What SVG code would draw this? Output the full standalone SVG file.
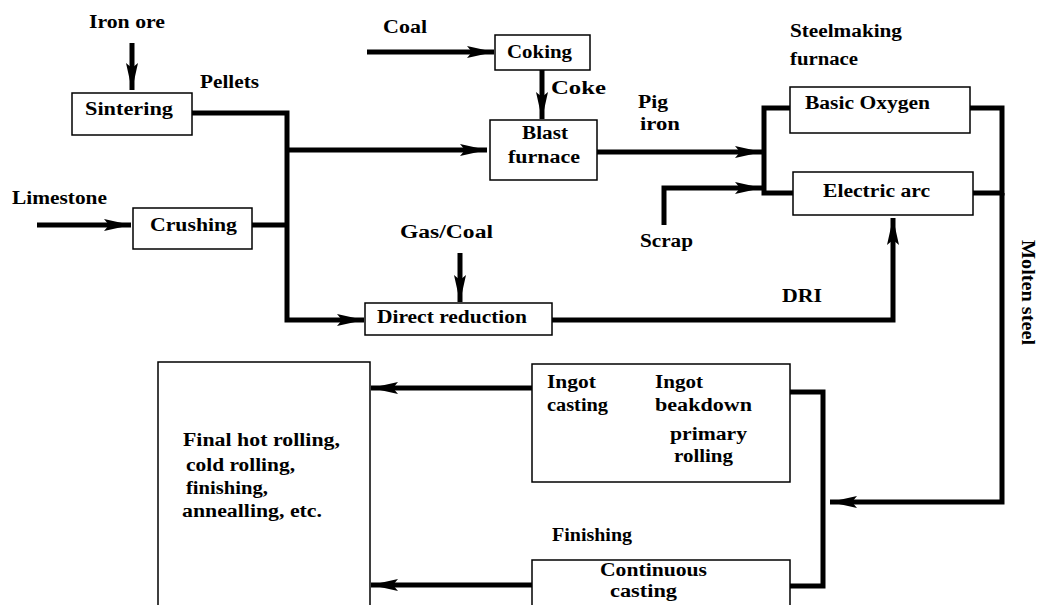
<svg xmlns="http://www.w3.org/2000/svg" width="1038" height="605" viewBox="0 0 1038 605">
<style>
.box{fill:#fff;stroke:#000;stroke-width:1.5}
.t{font-family:"Liberation Serif","Times New Roman",serif;font-weight:bold;font-size:18px;fill:#000}
.c{stroke:#000;stroke-width:5;fill:none;stroke-linejoin:miter}
</style>
<defs>
<marker id="ah" markerUnits="userSpaceOnUse" markerWidth="28" markerHeight="14" refX="27" refY="7" orient="auto">
<path d="M0,1 L27,7 L0,13 L5,7 Z" fill="#000"/>
</marker>
</defs>
<rect width="1038" height="605" fill="#fff"/>
<g id="connectors">
<path class="c" d="M132,43 V90" marker-end="url(#ah)"/>
<path class="c" d="M192,113 H287 V320 H364" marker-end="url(#ah)"/>
<path class="c" d="M287,150 H487" marker-end="url(#ah)"/>
<path class="c" d="M37,225 H131" marker-end="url(#ah)"/>
<path class="c" d="M252,225 H287"/>
<path class="c" d="M367,52 H494" marker-end="url(#ah)"/>
<path class="c" d="M542,70 V119" marker-end="url(#ah)"/>
<path class="c" d="M597,152 H762" marker-end="url(#ah)"/>
<path class="c" d="M790,108 H764 V193 H793"/>
<path class="c" d="M664,225 V188 H762" marker-end="url(#ah)"/>
<path class="c" d="M460,253 V302" marker-end="url(#ah)"/>
<path class="c" d="M552,320 H893 V218" marker-end="url(#ah)"/>
<path class="c" d="M970,108 H1002 V193 H973"/>
<path class="c" d="M1002,193 V502 H830" marker-end="url(#ah)"/>
<path class="c" d="M532,388 H371" marker-end="url(#ah)"/>
<path class="c" d="M790,392 H823 V586 H790"/>
<path class="c" d="M532,585 H371" marker-end="url(#ah)"/>
</g>
<g id="iron-ore"><text class="t" x="89" y="28" textLength="76" lengthAdjust="spacingAndGlyphs">Iron ore</text></g>
<g id="sintering"><rect class="box" x="72" y="93" width="120" height="42"/><text class="t" x="85" y="115" textLength="88" lengthAdjust="spacingAndGlyphs">Sintering</text></g>
<g id="pellets"><text class="t" x="200" y="88" textLength="59" lengthAdjust="spacingAndGlyphs">Pellets</text></g>
<g id="limestone"><text class="t" x="12" y="204" textLength="95" lengthAdjust="spacingAndGlyphs">Limestone</text></g>
<g id="crushing"><rect class="box" x="133" y="208" width="119" height="41"/><text class="t" x="150" y="231" textLength="87" lengthAdjust="spacingAndGlyphs">Crushing</text></g>
<g id="coal"><text class="t" x="383" y="33" textLength="44" lengthAdjust="spacingAndGlyphs">Coal</text></g>
<g id="coking"><rect class="box" x="495" y="35" width="95" height="35"/><text class="t" x="507" y="58" textLength="65" lengthAdjust="spacingAndGlyphs">Coking</text></g>
<g id="coke"><text class="t" x="551" y="94" textLength="55" lengthAdjust="spacingAndGlyphs">Coke</text></g>
<g id="blast-furnace"><rect class="box" x="490" y="120" width="107" height="60"/><text class="t" x="522" y="139" textLength="46" lengthAdjust="spacingAndGlyphs">Blast</text><text class="t" x="508" y="163" textLength="72" lengthAdjust="spacingAndGlyphs">furnace</text></g>
<g id="pig-iron"><text class="t" x="638" y="108" textLength="30" lengthAdjust="spacingAndGlyphs">Pig</text><text class="t" x="640" y="130" textLength="40" lengthAdjust="spacingAndGlyphs">iron</text></g>
<g id="steelmaking-furnace"><text class="t" x="790" y="37" textLength="112" lengthAdjust="spacingAndGlyphs">Steelmaking</text><text class="t" x="790" y="65" textLength="68" lengthAdjust="spacingAndGlyphs">furnace</text></g>
<g id="basic-oxygen"><rect class="box" x="790" y="87" width="180" height="46"/><text class="t" x="805" y="109" textLength="125" lengthAdjust="spacingAndGlyphs">Basic Oxygen</text></g>
<g id="electric-arc"><rect class="box" x="793" y="172" width="180" height="43"/><text class="t" x="823" y="197" textLength="107" lengthAdjust="spacingAndGlyphs">Electric arc</text></g>
<g id="scrap"><text class="t" x="640" y="247" textLength="53" lengthAdjust="spacingAndGlyphs">Scrap</text></g>
<g id="gas-coal"><text class="t" x="400" y="238" textLength="93" lengthAdjust="spacingAndGlyphs">Gas/Coal</text></g>
<g id="direct-reduction"><rect class="box" x="365" y="303" width="187" height="32"/><text class="t" x="377" y="323" textLength="150" lengthAdjust="spacingAndGlyphs">Direct reduction</text></g>
<g id="dri"><text class="t" x="782" y="302" textLength="40" lengthAdjust="spacingAndGlyphs">DRI</text></g>
<g id="molten-steel"><text class="t" transform="translate(1022,240) rotate(90)" textLength="105" lengthAdjust="spacingAndGlyphs">Molten steel</text></g>
<g id="final"><rect class="box" x="158" y="362" width="212" height="250"/><text class="t" x="183" y="446" textLength="157" lengthAdjust="spacingAndGlyphs">Final hot rolling,</text><text class="t" x="186" y="471" textLength="109" lengthAdjust="spacingAndGlyphs">cold rolling,</text><text class="t" x="186" y="494" textLength="82" lengthAdjust="spacingAndGlyphs">finishing,</text><text class="t" x="182" y="517" textLength="140" lengthAdjust="spacingAndGlyphs">annealling, etc.</text></g>
<g id="ingot"><rect class="box" x="532" y="364" width="258" height="118"/><text class="t" x="547" y="388" textLength="49" lengthAdjust="spacingAndGlyphs">Ingot</text><text class="t" x="547" y="411" textLength="61" lengthAdjust="spacingAndGlyphs">casting</text><text class="t" x="655" y="388" textLength="48" lengthAdjust="spacingAndGlyphs">Ingot</text><text class="t" x="655" y="411" textLength="97" lengthAdjust="spacingAndGlyphs">beakdown</text><text class="t" x="670" y="440" textLength="77" lengthAdjust="spacingAndGlyphs">primary</text><text class="t" x="674" y="462" textLength="59" lengthAdjust="spacingAndGlyphs">rolling</text></g>
<g id="finishing"><text class="t" x="552" y="541" textLength="80" lengthAdjust="spacingAndGlyphs">Finishing</text></g>
<g id="continuous-casting"><rect class="box" x="532" y="560" width="258" height="60"/><text class="t" x="600" y="576" textLength="107" lengthAdjust="spacingAndGlyphs">Continuous</text><text class="t" x="610" y="597" textLength="67" lengthAdjust="spacingAndGlyphs">casting</text></g>
</svg>
